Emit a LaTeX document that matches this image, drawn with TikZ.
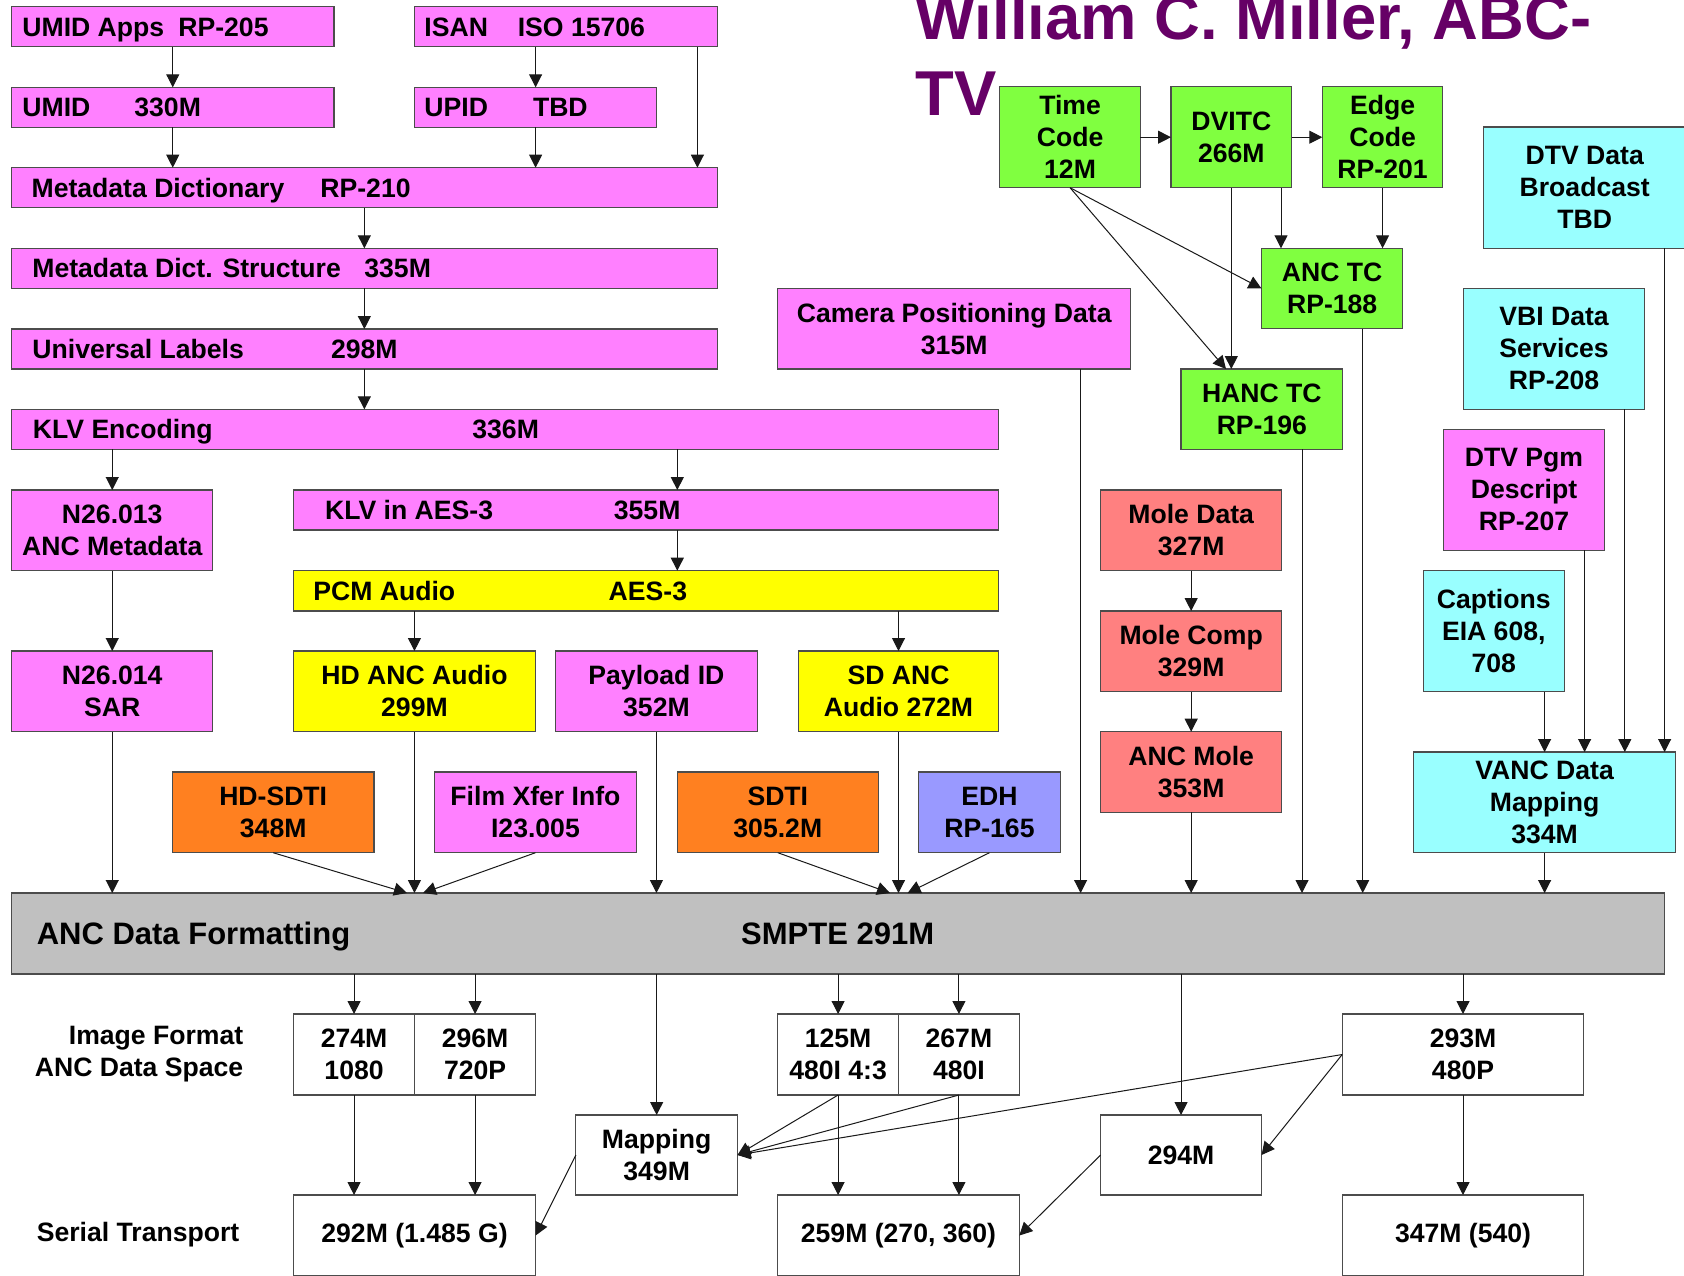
\documentclass[tikz,border=0pt]{standalone}
\usepackage{fontspec}
\setmainfont{Liberation Sans}
\usetikzlibrary{arrows.meta}
\definecolor{cmag}{HTML}{FF80FF}
\definecolor{cyel}{HTML}{FFFF00}
\definecolor{cgrn}{HTML}{80FF40}
\definecolor{corg}{HTML}{FF8020}
\definecolor{cedh}{HTML}{9999FF}
\definecolor{ccya}{HTML}{99FFFF}
\definecolor{csal}{HTML}{FF8080}
\definecolor{cgry}{HTML}{C0C0C0}
\definecolor{cttl}{HTML}{660066}
\newcommand\boxfont{\fontsize{13.3}{16}\selectfont\bfseries}
\newcommand\bigfont{\fontsize{15.5}{18}\selectfont\bfseries}
\newcommand\ttlfont{\fontsize{31.7}{38}\selectfont\bfseries}
\newcommand\bx[7]{\node[#1, anchor=north west, minimum width={(#5-#3)*0.5pt}, minimum height={(#6-#4)*0.5pt}] (#2) at (#3,#4) {#7};}
\begin{document}
\begin{tikzpicture}[x=0.5pt,y=-0.5pt,
  box/.style={draw=black!70, line width=0.6pt, inner sep=0pt, outer sep=0pt, align=center, font=\boxfont},
  mag/.style={box, fill=cmag},
  yel/.style={box, fill=cyel},
  grn/.style={box, fill=cgrn},
  org/.style={box, fill=corg},
  edhb/.style={box, fill=cedh},
  cya/.style={box, fill=ccya},
  sal/.style={box, fill=csal},
  gryb/.style={box, fill=cgry},
  wht/.style={box, fill=white},
  lab/.style={font=\boxfont, inner sep=0pt, anchor=base west},
  arr/.style={-{Triangle[length=6.5pt,width=6.5pt]}, line width=0.5pt, draw=black!90}]
\useasboundingbox (0,0) rectangle (1684,1275);
\clip (0,0) rectangle (1684,1275);
\fill[white] (0,0) rectangle (1684,1275);

% title
\node[font=\ttlfont, text=cttl, inner sep=0pt, anchor=base west] (title1) at (915,39.3) {William C. Miller, ABC-};
\node[font=\ttlfont, text=cttl, inner sep=0pt, anchor=base west] (title2) at (915,115) {TV};

% boxes
\bx{mag}{umidapps}{11.5}{6.5}{334}{46.7}{}
\bx{mag}{isan}{414.6}{6.5}{717.2}{46.7}{}
\bx{mag}{umid}{11.5}{87.3}{334}{127.3}{}
\bx{mag}{upid}{414.6}{87.3}{656.6}{127.3}{}
\bx{mag}{mdict}{11.5}{167.7}{717.2}{207.7}{}
\bx{mag}{mdstr}{11.5}{248.3}{717.2}{288.3}{}
\bx{mag}{ulab}{11.5}{329}{717.2}{369}{}
\bx{mag}{klv}{11.5}{409.3}{998.7}{449.3}{}
\bx{mag}{n13}{11.7}{490}{212.8}{570.7}{N26.013\\ANC Metadata}
\bx{mag}{klvaes}{293.4}{490}{998.7}{530}{}
\bx{yel}{pcm}{293.4}{570.7}{998.7}{611}{}
\bx{mag}{n14}{11.7}{651}{212.8}{731.7}{N26.014\\SAR}
\bx{yel}{hdanc}{293.4}{651}{535.5}{731.7}{HD ANC Audio\\299M}
\bx{mag}{payload}{555.6}{651}{757.3}{731.7}{Payload ID\\352M}
\bx{yel}{sdanc}{798.3}{651}{998.7}{731.7}{SD ANC\\Audio 272M}
\bx{org}{hdsdti}{172.4}{772}{374}{852.7}{HD-SDTI\\348M}
\bx{mag}{filmx}{434.6}{772}{636.3}{852.7}{Film Xfer Info\\I23.005}
\bx{org}{sdti}{677.3}{772}{878.3}{852.7}{SDTI\\305.2M}
\bx{edhb}{edh}{918.7}{772}{1060.2}{852.7}{EDH\\RP-165}
\bx{gryb}{anc}{11.8}{893}{1664.6}{974}{}
\bx{mag}{camera}{777.8}{288.3}{1130.6}{369}{Camera Positioning Data\\315M}
\bx{grn}{timecode}{999.7}{86.7}{1140.4}{187.7}{Time\\Code\\12M}
\bx{grn}{dvitc}{1171}{86.7}{1291.6}{187.7}{DVITC\\266M}
\bx{grn}{edge}{1322.3}{86.7}{1442.8}{187.7}{Edge\\Code\\RP-201}
\bx{grn}{anctc}{1261.5}{248.3}{1402.8}{328.7}{ANC TC\\RP-188}
\bx{grn}{hanc}{1181}{369}{1342.7}{449.3}{HANC TC\\RP-196}
\bx{cya}{dtvdata}{1483.4}{127}{1686}{248.3}{DTV Data\\Broadcast\\TBD}
\bx{cya}{vbi}{1463.7}{288.3}{1644.4}{409.3}{VBI Data\\Services\\RP-208}
\bx{mag}{dtvpgm}{1443.5}{429.3}{1604.5}{550.3}{DTV Pgm\\Descript\\RP-207}
\bx{cya}{captions}{1423.2}{570.7}{1564.3}{691.7}{Captions\\EIA 608,\\708}
\bx{cya}{vanc}{1413.5}{752}{1675.7}{852.7}{VANC Data\\Mapping\\334M}
\bx{sal}{moledata}{1100.5}{490}{1281.8}{570.7}{Mole Data\\327M}
\bx{sal}{molecomp}{1100.5}{611}{1281.8}{691.7}{Mole Comp\\329M}
\bx{sal}{ancmole}{1100.5}{731.7}{1281.8}{812.3}{ANC Mole\\353M}
\bx{wht}{f274}{293.5}{1014}{414.6}{1095}{274M\\1080}
\bx{wht}{f296}{414.6}{1014}{535.6}{1095}{296M\\720P}
\bx{wht}{f125}{777.7}{1014}{898.5}{1095}{125M\\480I 4:3}
\bx{wht}{f267}{898.5}{1014}{1019.3}{1095}{267M\\480I}
\bx{wht}{f293}{1342.2}{1014}{1583.8}{1095}{293M\\480P}
\bx{wht}{map349}{575.8}{1115}{737.5}{1195}{Mapping\\349M}
\bx{wht}{m294}{1100.6}{1115}{1261.5}{1195}{294M}
\bx{wht}{s292}{293.5}{1195}{535.6}{1276}{292M (1.485 G)}
\bx{wht}{s259}{777.7}{1195}{1019.3}{1276}{259M (270, 360)}
\bx{wht}{s347}{1342.2}{1195}{1583.8}{1276}{347M (540)}

% left-aligned labels
\node[lab] (tumidapps) at (22,36) {UMID Apps};
\node[lab] (trp205) at (178,36) {RP-205};
\node[lab] (tisan) at (424,36) {ISAN};
\node[lab] (tiso) at (517.4,36) {ISO 15706};
\node[lab] (tumid) at (22,116.8) {UMID};
\node[lab] (t330) at (134,116.8) {330M};
\node[lab] (tupid) at (424,116.8) {UPID};
\node[lab] (ttbd) at (532.6,116.8) {TBD};
\node[lab] (tmdict) at (31.2,197.2) {Metadata Dictionary};
\node[lab] (trp210) at (320,197.2) {RP-210};
\node[lab] (tmdstr) at (32,277.8) {Metadata Dict. Structure};
\node[lab] (t335) at (364,277.8) {335M};
\node[lab] (tulab) at (32,358.5) {Universal Labels};
\node[lab] (t298) at (330.6,358.5) {298M};
\node[lab] (tklv) at (32.5,438.8) {KLV Encoding};
\node[lab] (t336) at (472,438.8) {336M};
\node[lab] (tklvaes) at (324.7,519.5) {KLV in AES-3};
\node[lab] (t355) at (613.5,519.5) {355M};
\node[lab] (tpcm) at (313,600.3) {PCM Audio};
\node[lab] (taes) at (608.3,600.3) {AES-3};
\node[lab, font=\bigfont] (tancfmt) at (36.4,944.5) {ANC Data Formatting};
\node[lab, font=\bigfont] (tsmpte) at (740.8,944.5) {SMPTE 291M};
\node[font=\boxfont, inner sep=0pt, align=right, anchor=east] (timgfmt) at (243.7,1054.5) {Image Format\\ANC Data Space};
\node[lab] (tserial) at (36.4,1241.7) {Serial Transport};

% helper x positions
\coordinate (xa) at (697.4,0);
\coordinate (xb) at (677.3,0);
\coordinate (xc) at (407,0);
\coordinate (xd) at (423,0);
\coordinate (xe) at (890,0);
\coordinate (xf) at (907.6,0);
\coordinate (xg) at (1080.6,0);
\coordinate (xh) at (1302,0);
\coordinate (xi) at (1362.7,0);
\coordinate (xj) at (1584.6,0);
\coordinate (xk) at (1624.8,0);
\coordinate (xl) at (1664.6,0);
\coordinate (xm) at (1226,0);
\coordinate (xn) at (1281,0);

% connectors
\draw[arr] (umidapps.south) -- (umid.north);
\draw[arr] (umid.south) -- (umid.south |- mdict.north);
\draw[arr] (upid.north |- isan.south) -- (upid.north);
\draw[arr] (upid.south) -- (upid.south |- mdict.north);
\draw[arr] (isan.south -| xa) -- (mdict.north -| xa);
\draw[arr] (mdict.south) -- (mdstr.north);
\draw[arr] (mdstr.south) -- (ulab.north);
\draw[arr] (ulab.south) -- (ulab.south |- klv.north);
\draw[arr] (n13.north |- klv.south) -- (n13.north);
\draw[arr] (klv.south -| xb) -- (klvaes.north -| xb);
\draw[arr] (klvaes.south -| xb) -- (pcm.north -| xb);
\draw[arr] (hdanc.north |- pcm.south) -- (hdanc.north);
\draw[arr] (sdanc.north |- pcm.south) -- (sdanc.north);
\draw[arr] (n13.south) -- (n14.north);
\draw[arr] (n14.south) -- (n14.south |- anc.north);
\draw[arr] (hdanc.south) -- (hdanc.south |- anc.north);
\draw[arr] (payload.south) -- (payload.south |- anc.north);
\draw[arr] (sdanc.south) -- (sdanc.south |- anc.north);
\draw[arr] (hdsdti.south) -- (anc.north -| xc);
\draw[arr] (filmx.south) -- (anc.north -| xd);
\draw[arr] (sdti.south) -- (anc.north -| xe);
\draw[arr] (edh.south) -- (anc.north -| xf);
\draw[arr] (camera.south -| xg) -- (anc.north -| xg);
\draw[arr] (ancmole.south) -- (ancmole.south |- anc.north);
\draw[arr] (hanc.south -| xh) -- (anc.north -| xh);
\draw[arr] (anctc.south -| xi) -- (anc.north -| xi);
\draw[arr] (vanc.south) -- (vanc.south |- anc.north);
\draw[arr] (moledata.south) -- (molecomp.north);
\draw[arr] (molecomp.south) -- (ancmole.north);
\draw[arr] (captions.south -| vanc.north) -- (vanc.north);
\draw[arr] (dtvpgm.south -| xj) -- (vanc.north -| xj);
\draw[arr] (vbi.south -| xk) -- (vanc.north -| xk);
\draw[arr] (dtvdata.south -| xl) -- (vanc.north -| xl);
\draw[arr] (timecode.east) -- (dvitc.west);
\draw[arr] (dvitc.east) -- (edge.west);
\draw[arr] (timecode.south) -- (anctc.west);
\draw[arr] (timecode.south) -- (hanc.north -| xm);
\draw[arr] (dvitc.south) -- (dvitc.south |- hanc.north);
\draw[arr] (dvitc.south -| xn) -- (anctc.north -| xn);
\draw[arr] (edge.south) -- (edge.south |- anctc.north);
\draw[arr] (anc.south -| f274.north) -- (f274.north);
\draw[arr] (anc.south -| f296.north) -- (f296.north);
\draw[arr] (anc.south -| map349.north) -- (map349.north);
\draw[arr] (anc.south -| f125.north) -- (f125.north);
\draw[arr] (anc.south -| f267.north) -- (f267.north);
\draw[arr] (anc.south -| m294.north) -- (m294.north);
\draw[arr] (anc.south -| f293.north) -- (f293.north);
\draw[arr] (f274.south) -- (f274.south |- s292.north);
\draw[arr] (f296.south) -- (f296.south |- s292.north);
\draw[arr] (f125.south) -- (f125.south |- s259.north);
\draw[arr] (f267.south) -- (f267.south |- s259.north);
\draw[arr] (f293.south) -- (s347.north);
\draw[arr] (map349.west) -- (s292.east);
\draw[arr] (f125.south) -- (map349.east);
\draw[arr] (f267.south) -- (map349.east);
\draw[arr] (f293.west) -- (map349.east);
\draw[arr] (f293.west) -- (m294.east);
\draw[arr] (m294.west) -- (s259.east);
\end{tikzpicture}
\end{document}
